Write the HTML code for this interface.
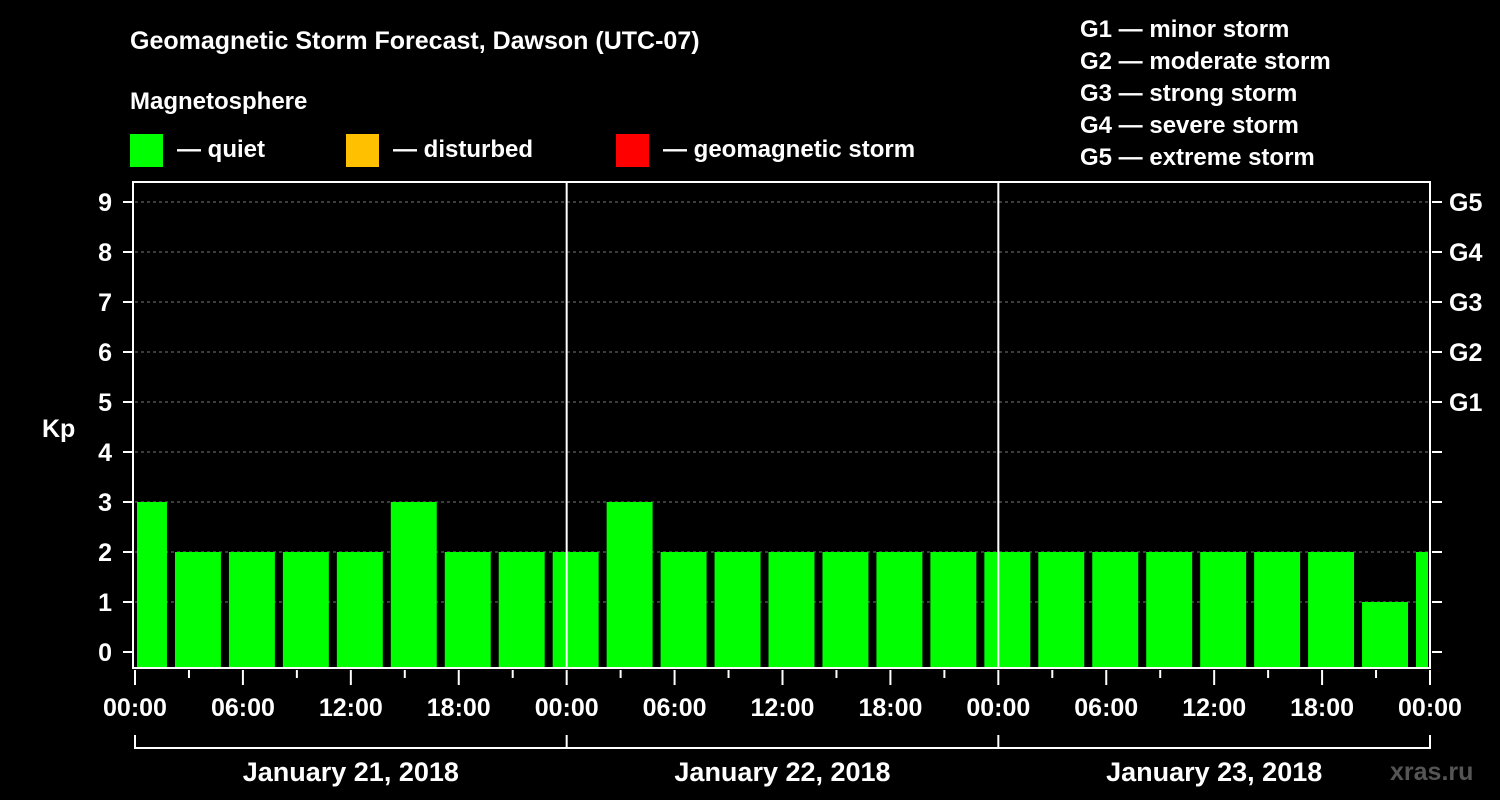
<!DOCTYPE html>
<html><head><meta charset="utf-8"><style>
html,body{margin:0;background:#000;}
svg{display:block;font-family:"Liberation Sans",Arial,sans-serif;font-weight:bold;}
</style></head><body>
<svg id="c" width="1500" height="800">
<text x="130" y="49" fill="#fff" font-size="25">Geomagnetic Storm Forecast, Dawson (UTC-07)</text>
<text x="130" y="109" fill="#fff" font-size="24">Magnetosphere</text>
<g><rect x="130" y="134" width="33" height="33" fill="#00ff00"/><text x="177" y="157" fill="#fff" font-size="24">— quiet</text></g>
<g><rect x="346" y="134" width="33" height="33" fill="#ffc000"/><text x="393" y="157" fill="#fff" font-size="24">— disturbed</text></g>
<g><rect x="616" y="134" width="33" height="33" fill="#ff0000"/><text x="663" y="157" fill="#fff" font-size="24">— geomagnetic storm</text></g>
<g fill="#fff" font-size="24">
<text x="1080" y="37">G1 — minor storm</text><text x="1080" y="69">G2 — moderate storm</text><text x="1080" y="101">G3 — strong storm</text><text x="1080" y="133">G4 — severe storm</text><text x="1080" y="165">G5 — extreme storm</text></g>
<text x="42" y="437" fill="#fff" font-size="25">Kp</text>
<text x="1390" y="780" fill="#555" font-size="25">xras.ru</text>
<g id="grid"></g><g id="bars"></g><g id="axes"></g>
</svg>
<script>
const startHours=[-1,2,5,8,11,14,17,20,23,26,29,32,35,38,41,44,47,50,53,56,59,62,65,68,71];
const kpValues=[3,2,2,2,2,3,2,2,2,3,2,2,2,2,2,2,2,2,2,2,2,2,2,1,2];
const yTicks=[0,1,2,3,4,5,6,7,8,9];
const gLabels=["G1","G2","G3","G4","G5"];
const xTickLabels=["00:00","06:00","12:00","18:00","00:00","06:00","12:00","18:00","00:00","06:00","12:00","18:00","00:00"];
const dayLabels=["January 21, 2018","January 22, 2018","January 23, 2018"];
const X0=135,X1=1430,HOURS=72,TOP=182,BOT=668;
const x=h=>X0+(h/HOURS)*(X1-X0);
const y=k=>652-k*50;
const NS="http://www.w3.org/2000/svg";
function mk(tag,attrs,parent,txt){const e=document.createElementNS(NS,tag);for(const k in attrs)e.setAttribute(k,attrs[k]);if(txt!==undefined)e.textContent=txt;parent.appendChild(e);return e;}
const grid=document.getElementById('grid'),bars=document.getElementById('bars'),axes=document.getElementById('axes');
for(const k of yTicks){
 if(k>=1){const l=mk('line',{x1:X0,x2:X1,y1:y(k),y2:y(k),stroke:'#777','stroke-dasharray':'3,3','stroke-width':1},grid);
 
 }
 const t=mk('text',{x:112,y:y(k)+9,fill:'#fff','font-size':25,'text-anchor':'end'},axes,String(k));
 
 
 mk('line',{x1:123,x2:133,y1:y(k),y2:y(k),stroke:'#fff','stroke-width':2},axes);
 mk('line',{x1:1432,x2:1442,y1:y(k),y2:y(k),stroke:'#fff','stroke-width':2},axes);
}
gLabels.forEach((g,i)=>{const t=mk('text',{x:1449,y:y(5+i)+9,fill:'#fff','font-size':25},axes,g);
 
 });
startHours.forEach((h,i)=>{
 let a=x(h)+4,b=x(h+3)-4;a=Math.max(a,X0+2);b=Math.min(b,X1-2);
 const k=kpValues[i];const col=k>=5?'#ff0000':(k>=4?'#ffc000':'#00ff00');
 const r=mk('rect',{x:a,y:y(k),width:b-a,height:BOT-y(k),fill:col},bars);
 
 
});
mk('rect',{x:X0-2,y:TOP,width:X1-X0+2,height:BOT-TOP,fill:'none',stroke:'#fff','stroke-width':2},axes);
[24,48].forEach(h=>mk('line',{x1:x(h),x2:x(h),y1:TOP,y2:BOT,stroke:'#fff','stroke-width':2},axes));
for(let h=0;h<=72;h+=3){const long=h%6===0;mk('line',{x1:x(h),x2:x(h),y1:BOT+2,y2:long?BOT+17:BOT+10,stroke:'#fff','stroke-width':2},axes);}
xTickLabels.forEach((s,i)=>{const t=mk('text',{x:x(i*6),y:716,fill:'#fff','font-size':25,'text-anchor':'middle'},axes,s);
 
 });
mk('line',{x1:x(0),x2:x(72),y1:748,y2:748,stroke:'#fff','stroke-width':2},axes);
for(let d=0;d<=3;d++)mk('line',{x1:x(d*24),x2:x(d*24),y1:735,y2:749,stroke:'#fff','stroke-width':2},axes);
dayLabels.forEach((s,i)=>{const t=mk('text',{x:x(i*24+12),y:781,fill:'#fff','font-size':27,'text-anchor':'middle'},axes,s);
 
 });
</script>
</body></html>
